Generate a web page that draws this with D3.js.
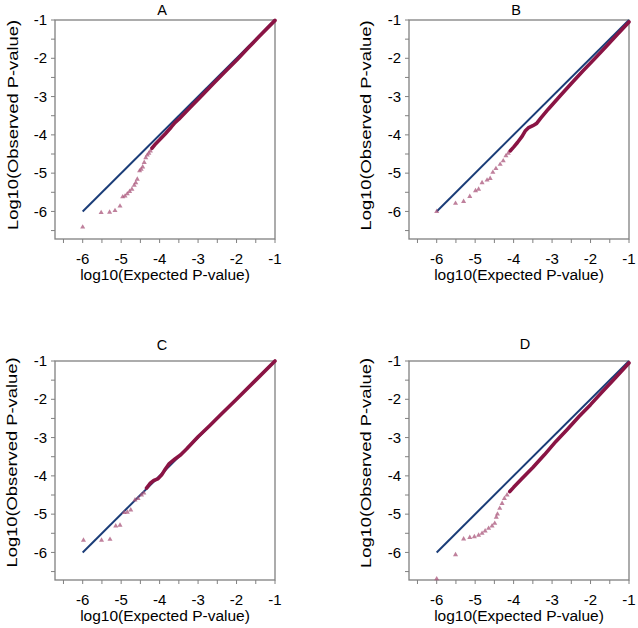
<!DOCTYPE html>
<html>
<head>
<meta charset="utf-8">
<script src="https://cdn.jsdelivr.net/npm/d3@7"></script>
<style>
  html, body { margin: 0; padding: 0; background: #ffffff; }
  svg { display: block; }
  text { font-family: "Liberation Sans", Arial, sans-serif; fill: #000; }
</style>
</head>
<body>
<svg id="chart" width="638" height="628"></svg>
<script>
// ---------------- DATA ----------------
const panelNames = ["A", "B", "C", "D"];
const majorTicks = [-6, -5, -4, -3, -2, -1];
const minorTicks = [-6.5, -5.5, -4.5, -3.5, -2.5, -1.5];
const tickLabels = ["-6", "-5", "-4", "-3", "-2", "-1"];
const xTitle = "log10(Expected P-value)";
const yTitle = "Log10(Observed P-value)";
const axisDomain = [-6.72, -1];
const referenceLine = [[-6, -6], [-1, -1]];

// sparse tail points [expected, observed]
const tailA = [[-6.00,-6.41],[-5.52,-6.03],[-5.30,-6.02],[-5.16,-5.98],[-5.03,-5.86],[-4.96,-5.62],
  [-4.90,-5.60],[-4.84,-5.54],[-4.78,-5.48],[-4.72,-5.42],[-4.66,-5.32],[-4.62,-5.25],[-4.58,-5.16],
  [-4.52,-4.94],[-4.48,-4.90],[-4.44,-4.84],[-4.40,-4.72],[-4.36,-4.60],[-4.32,-4.53],[-4.28,-4.48],
  [-4.24,-4.42]];
const tailB = [[-6.00,-6.00],[-5.51,-5.79],[-5.30,-5.74],[-5.14,-5.61],[-4.99,-5.46],[-4.91,-5.42],
  [-4.82,-5.25],[-4.69,-5.18],[-4.61,-5.14],[-4.54,-4.98],[-4.46,-4.88],[-4.35,-4.77],[-4.27,-4.68],
  [-4.20,-4.55],[-4.14,-4.48]];
const tailC = [[-5.98,-5.68],[-5.51,-5.68],[-5.29,-5.66],[-5.14,-5.31],[-5.03,-5.29],[-4.92,-4.96],
  [-4.84,-4.95],[-4.75,-4.89],[-4.64,-4.63],[-4.56,-4.59],[-4.47,-4.50],[-4.41,-4.45]];
const tailD = [[-6.00,-6.69],[-5.51,-6.06],[-5.30,-5.65],[-5.14,-5.61],[-5.02,-5.59],[-4.91,-5.55],
  [-4.82,-5.50],[-4.74,-5.44],[-4.65,-5.37],[-4.56,-5.31],[-4.49,-5.24],[-4.45,-5.08],[-4.42,-5.00],
  [-4.36,-4.85],[-4.30,-4.72],[-4.24,-4.59],[-4.17,-4.50]];

// dense part of the observed distribution [expected, observed]
const denseA = [[-4.20,-4.35],[-4.10,-4.23],[-4.00,-4.13],[-3.85,-3.97],[-3.70,-3.80],[-3.60,-3.68],
  [-3.50,-3.59],[-3.20,-3.28],[-2.90,-2.97],[-2.60,-2.66],[-2.30,-2.35],[-2.00,-2.05],[-1.70,-1.73],
  [-1.40,-1.42],[-1.00,-1.01]];
const denseB = [[-4.09,-4.42],[-4.00,-4.32],[-3.90,-4.20],[-3.78,-4.04],[-3.70,-3.90],[-3.62,-3.82],
  [-3.50,-3.76],[-3.40,-3.70],[-3.30,-3.57],[-3.10,-3.33],[-2.80,-2.99],[-2.50,-2.66],[-2.20,-2.33],
  [-1.90,-2.02],[-1.60,-1.70],[-1.30,-1.37],[-1.00,-1.05]];
const denseC = [[-4.34,-4.32],[-4.25,-4.20],[-4.15,-4.12],[-4.05,-4.08],[-3.95,-3.98],[-3.85,-3.82],
  [-3.75,-3.68],[-3.60,-3.56],[-3.45,-3.45],[-3.30,-3.30],[-3.00,-2.98],[-2.70,-2.69],[-2.40,-2.39],
  [-2.00,-2.00],[-1.50,-1.50],[-1.00,-1.00]];
const denseD = [[-4.10,-4.41],[-4.00,-4.30],[-3.80,-4.09],[-3.50,-3.78],[-3.20,-3.45],[-2.90,-3.10],
  [-2.60,-2.78],[-2.30,-2.45],[-2.00,-2.14],[-1.70,-1.81],[-1.40,-1.49],[-1.00,-1.05]];

const tails = [tailA, tailB, tailC, tailD];
const denses = [denseA, denseB, denseC, denseD];

// ---------------- LAYOUT ----------------
const W = 220, H = 219;
const layout = [
  { left: 55,  top: 20,  titleX: 162, titleY: 15,  yTitleX: 12,    yTitleDy: -4.5 },
  { left: 409, top: 20,  titleX: 516, titleY: 15,  yTitleX: 365.5, yTitleDy: -4 },
  { left: 55,  top: 361, titleX: 162, titleY: 350, yTitleX: 11,    yTitleDy: -8 },
  { left: 409, top: 361, titleX: 525, titleY: 349, yTitleX: 365.5, yTitleDy: -7.5 }
];
const frameColor = "#808080";
const blue = "#1b3d78";
const denseColor = "#8a1444";
const tailColor = "#a9557b";

const svg = d3.select("#chart");

panelNames.forEach((name, i) => {
  const L = layout[i];
  const x = d3.scaleLinear().domain(axisDomain).range([L.left, L.left + W]);
  const y = d3.scaleLinear().domain(axisDomain).range([L.top + H, L.top]);
  const g = svg.append("g");
  const bottom = L.top + H;

  // frame
  g.append("rect").attr("x", L.left).attr("y", L.top).attr("width", W).attr("height", H)
    .attr("fill", "none").attr("stroke", frameColor).attr("stroke-width", 1.3);

  // x ticks
  const allTicks = majorTicks.concat(minorTicks);
  g.selectAll(".xt").data(allTicks).enter().append("line")
    .attr("x1", d => x(d)).attr("x2", d => x(d))
    .attr("y1", bottom).attr("y2", bottom + 4)
    .attr("stroke", frameColor).attr("stroke-width", 1);
  g.selectAll(".yt").data(allTicks).enter().append("line")
    .attr("y1", d => y(d)).attr("y2", d => y(d))
    .attr("x1", L.left - 4).attr("x2", L.left)
    .attr("stroke", frameColor).attr("stroke-width", 1);

  // tick labels
  g.selectAll(".xl").data(majorTicks).enter().append("text")
    .attr("x", d => x(d)).attr("y", bottom + 24.5)
    .attr("text-anchor", "middle").attr("font-size", 15)
    .text((d, k) => tickLabels[k]);
  g.selectAll(".yl").data(majorTicks).enter().append("text")
    .attr("x", L.left - 8).attr("y", d => y(d) + 5.2)
    .attr("text-anchor", "end").attr("font-size", 15)
    .text((d, k) => tickLabels[k]);

  // axis titles
  g.append("text").attr("x", L.left + W / 2).attr("y", bottom + 41)
    .attr("text-anchor", "middle").attr("font-size", 15.5).text(xTitle);
  const cy = L.top + H / 2 + L.yTitleDy;
  g.append("text")
    .attr("transform", `translate(${L.yTitleX + 5.5},${cy}) rotate(-90)`)
    .attr("text-anchor", "middle").attr("font-size", 15.5)
    .attr("textLength", 210).attr("lengthAdjust", "spacingAndGlyphs")
    .text(yTitle);

  // panel title
  g.append("text").attr("x", L.titleX).attr("y", L.titleY)
    .attr("text-anchor", "middle").attr("font-size", 14.5).text(name);

  // reference diagonal
  const line = d3.line().x(d => x(d[0])).y(d => y(d[1]));
  g.append("path").attr("d", line(referenceLine))
    .attr("fill", "none").attr("stroke", blue).attr("stroke-width", 2);

  // dense observed
  g.append("path").attr("d", line(denses[i]))
    .attr("fill", "none").attr("stroke", denseColor).attr("stroke-width", 3.6)
    .attr("stroke-linejoin", "round").attr("stroke-linecap", "round");

  // tail points
  const tri = d3.symbol().type(d3.symbolTriangle).size(11);
  g.selectAll(".pt").data(tails[i]).enter().append("path")
    .attr("d", tri)
    .attr("transform", d => `translate(${x(d[0])},${y(d[1])})`)
    .attr("fill", tailColor).attr("fill-opacity", 0.75);
});
</script>
</body>
</html>
